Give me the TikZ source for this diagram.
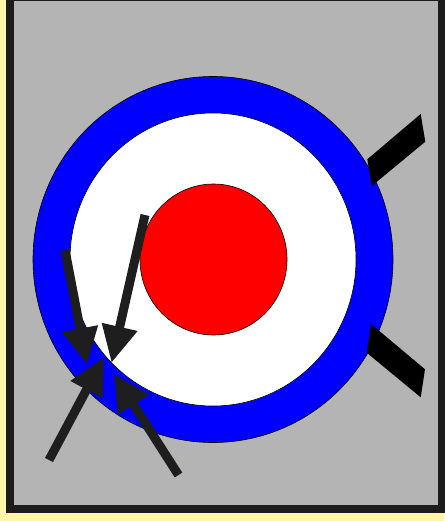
\documentclass[tikz,border=0pt]{standalone}
\usetikzlibrary{arrows.meta}
\definecolor{bgyellow}{RGB}{255,246,168}
\definecolor{panelgrey}{RGB}{180,180,180}
\definecolor{framedark}{RGB}{28,28,28}
\definecolor{arrowdark}{RGB}{30,30,30}
\tikzset{
  ring/.style={draw=black, line width=0.6pt},
  blade/.style={fill=black},
  bigarrow/.style={draw=arrowdark, line width=9pt, line cap=butt,
    -{Triangle[length=37pt,width=34pt]}}
}
\begin{document}
\begin{tikzpicture}[x=1pt,y=-1pt]
\useasboundingbox (0,0) rectangle (444,521);
\fill[bgyellow] (0,0) rectangle (444,521);
\draw[framedark, fill=panelgrey, line width=8pt] (10,-3) rectangle (442,508.5);
% target
\draw[ring, fill=blue] (213,259.5) ellipse [x radius=180, y radius=183];
\draw[ring, fill=white] (213,259.5) ellipse [x radius=143, y radius=146.5];
\draw[ring, fill=red] (213.5,259.5) ellipse [x radius=73.5, y radius=75.5];
% blades
\fill[blade] (367.3,159.3) -- (420.7,114) -- (425.3,141.7) -- (371.7,186) -- cycle;
\fill[blade] (371,324) -- (425,369.3) -- (420.7,397.3) -- (366.7,352.7) -- cycle;
% arrows
\coordinate (a1s) at (65,250);   \coordinate (a1e) at (87,365);
\coordinate (a2s) at (145,215);  \coordinate (a2e) at (111.5,363);
\coordinate (a3s) at (49,460);   \coordinate (a3e) at (104,357);
\coordinate (a4s) at (178.5,475);\coordinate (a4e) at (113.5,373.5);
\draw[bigarrow] (a1s) -- (a1e);
\draw[bigarrow] (a2s) -- (a2e);
\draw[bigarrow] (a3s) -- (a3e);
\draw[bigarrow] (a4s) -- (a4e);
\end{tikzpicture}
\end{document}
